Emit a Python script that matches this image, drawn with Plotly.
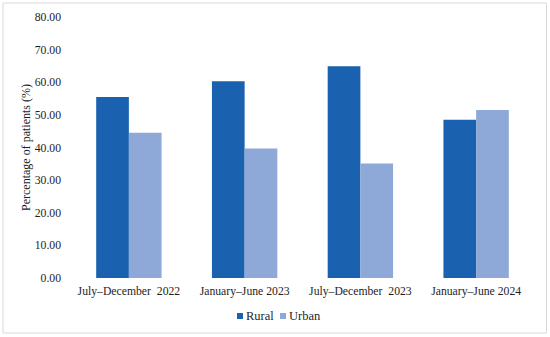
import plotly.graph_objects as go

categories = ["July\u2013December  2022", "January\u2013June 2023", "July\u2013December  2023", "January\u2013June 2024"]
rural = [55.5, 60.3, 64.9, 48.5]
urban = [44.5, 39.7, 35.1, 51.5]
y_ticks = [0, 10, 20, 30, 40, 50, 60, 70, 80]
y_tick_text = [f"{v:.2f}" for v in y_ticks]
series_names = ["Rural", "Urban"]
series_colors = ["#1A62AF", "#8EA8D8"]

FONT = "Liberation Serif"
TXT = "#1E1E1E"
fig = go.Figure()
fig.add_trace(go.Bar(name=series_names[0], x=categories, y=rural, marker=dict(color=series_colors[0], line_width=0)))
fig.add_trace(go.Bar(name=series_names[1], x=categories, y=urban, marker=dict(color=series_colors[1], line_width=0)))

L, R, T, B = 71, 16, 17, 59
W, H = 550, 337
pw, ph = W - L - R, H - T - B
def px(x):
    return (x - L) / pw
def py(y):
    return (H - B - y) / ph

shapes = [dict(type="rect", xref="paper", yref="paper", x0=px(3), x1=px(546.5), y0=py(333), y1=py(3),
               line=dict(color="#D9D9D9", width=1), fillcolor="rgba(0,0,0,0)", layer="below")]
annotations = []
legend_x = [237, 280]
for name, col, lx in zip(series_names, series_colors, legend_x):
    shapes.append(dict(type="rect", xref="paper", yref="paper", x0=px(lx), x1=px(lx + 6),
                       y0=py(319), y1=py(313), fillcolor=col, line_width=0))
    annotations.append(dict(text=name, xref="paper", yref="paper", x=px(lx + 7), y=py(316),
                            xanchor="left", yanchor="middle", showarrow=False,
                            font=dict(family=FONT, size=12.5, color=TXT)))

fig.update_layout(
    width=W, height=H,
    margin=dict(l=L, r=R, t=T, b=B),
    barmode="group", bargap=0.435, bargroupgap=0,
    plot_bgcolor="white", paper_bgcolor="white",
    font=dict(family=FONT, size=12, color=TXT),
    showlegend=False,
    xaxis=dict(showgrid=False, showline=False, zeroline=False, ticks="",
               tickfont=dict(family=FONT, size=11.7, color=TXT), ticklabelstandoff=4),
    yaxis=dict(range=[0, 80], tickvals=y_ticks, ticktext=y_tick_text, showgrid=False,
               showline=False, zeroline=False, ticks="",
               tickfont=dict(family=FONT, size=11.7, color=TXT), ticklabelstandoff=9,
               title=dict(text="Percentage of patients (%)", font=dict(family=FONT, size=12, color=TXT), standoff=1)),
    shapes=shapes,
    annotations=annotations,
)
fig.write_html("out.html", config={"displayModeBar": False},
               post_script="document.body.style.margin='0';")
